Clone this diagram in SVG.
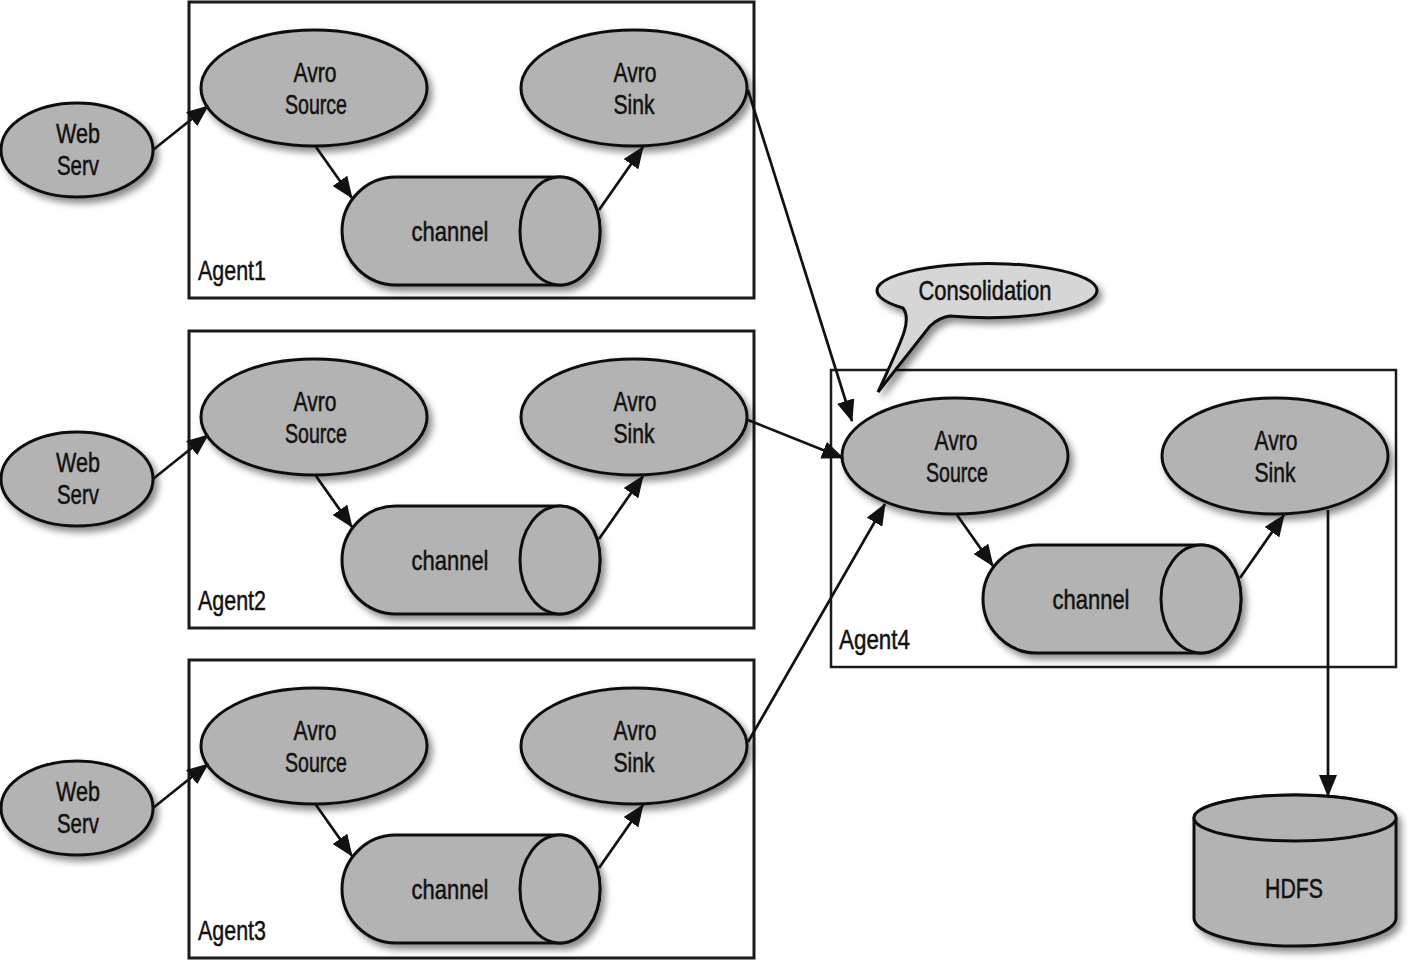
<svg xmlns="http://www.w3.org/2000/svg" width="1419" height="969" viewBox="0 0 1419 969">
<style>
  .box{fill:none;stroke:#1a1a1a;stroke-width:3}
  .box4{fill:none;stroke:#1a1a1a;stroke-width:2.5}
  .shape{fill:#b3b3b3;stroke:#111;stroke-width:3}
  .bubble{fill:#d6d6d6;stroke:#111;stroke-width:3}
  .conn{fill:none;stroke:#111;stroke-width:2.7}
  text{font-family:"Liberation Sans",Arial,sans-serif;font-size:28px;fill:#111;stroke:#111;stroke-width:0.5;text-anchor:middle}
  .lbl{text-anchor:start}
</style>
<defs>
  <filter id="sh" x="-20%" y="-20%" width="150%" height="150%">
    <feDropShadow dx="4" dy="5" stdDeviation="3.5" flood-color="#000" flood-opacity="0.45"/>
  </filter>
  <marker id="arr" markerUnits="userSpaceOnUse" markerWidth="22" markerHeight="18" viewBox="0 0 22 18" refX="21" refY="9" orient="auto">
    <path d="M0,0 L22,9 L0,18 Z" fill="#111"/>
  </marker>
</defs>
<rect width="1419" height="969" fill="#fff"/>

<!-- Agent 1 -->
<g id="agent1">
  <rect class="box" x="189" y="2" width="565" height="296"/>
  <text class="lbl" x="198" y="280" textLength="68" lengthAdjust="spacingAndGlyphs">Agent1</text>
</g>
<g id="web1"><ellipse class="shape" filter="url(#sh)" cx="77" cy="150" rx="76" ry="47"/><text x="78" y="143" textLength="44" lengthAdjust="spacingAndGlyphs">Web</text><text x="78" y="175" textLength="42" lengthAdjust="spacingAndGlyphs">Serv</text></g>
<g id="source1"><ellipse class="shape" filter="url(#sh)" cx="314" cy="88" rx="113" ry="58"/><text x="315" y="82" textLength="43" lengthAdjust="spacingAndGlyphs">Avro</text><text x="316" y="114" textLength="62" lengthAdjust="spacingAndGlyphs">Source</text></g>
<g id="sink1"><ellipse class="shape" filter="url(#sh)" cx="634" cy="88" rx="113" ry="58"/><text x="635" y="82" textLength="43" lengthAdjust="spacingAndGlyphs">Avro</text><text x="634" y="114" textLength="41" lengthAdjust="spacingAndGlyphs">Sink</text></g>
<g id="channel1"><g filter="url(#sh)"><path class="shape" d="M560,177 L396,177 A54,54 0 0 0 396,285 L560,285 A40,54 0 0 0 560,177 Z"/><ellipse class="shape" cx="560" cy="231" rx="40" ry="54"/></g><text x="450" y="241" textLength="77" lengthAdjust="spacingAndGlyphs">channel</text></g>

<!-- Agent 2 -->
<g id="agent2">
  <rect class="box" x="189" y="331" width="565" height="297"/>
  <text class="lbl" x="198" y="610" textLength="68" lengthAdjust="spacingAndGlyphs">Agent2</text>
</g>
<g id="web2"><ellipse class="shape" filter="url(#sh)" cx="77" cy="479" rx="76" ry="47"/><text x="78" y="472" textLength="44" lengthAdjust="spacingAndGlyphs">Web</text><text x="78" y="504" textLength="42" lengthAdjust="spacingAndGlyphs">Serv</text></g>
<g id="source2"><ellipse class="shape" filter="url(#sh)" cx="314" cy="417" rx="113" ry="58"/><text x="315" y="411" textLength="43" lengthAdjust="spacingAndGlyphs">Avro</text><text x="316" y="443" textLength="62" lengthAdjust="spacingAndGlyphs">Source</text></g>
<g id="sink2"><ellipse class="shape" filter="url(#sh)" cx="634" cy="417" rx="113" ry="58"/><text x="635" y="411" textLength="43" lengthAdjust="spacingAndGlyphs">Avro</text><text x="634" y="443" textLength="41" lengthAdjust="spacingAndGlyphs">Sink</text></g>
<g id="channel2"><g filter="url(#sh)"><path class="shape" d="M560,506 L396,506 A54,54 0 0 0 396,614 L560,614 A40,54 0 0 0 560,506 Z"/><ellipse class="shape" cx="560" cy="560" rx="40" ry="54"/></g><text x="450" y="570" textLength="77" lengthAdjust="spacingAndGlyphs">channel</text></g>

<!-- Agent 3 -->
<g id="agent3">
  <rect class="box" x="189" y="660" width="565" height="298"/>
  <text class="lbl" x="198" y="940" textLength="68" lengthAdjust="spacingAndGlyphs">Agent3</text>
</g>
<g id="web3"><ellipse class="shape" filter="url(#sh)" cx="77" cy="808" rx="76" ry="47"/><text x="78" y="801" textLength="44" lengthAdjust="spacingAndGlyphs">Web</text><text x="78" y="833" textLength="42" lengthAdjust="spacingAndGlyphs">Serv</text></g>
<g id="source3"><ellipse class="shape" filter="url(#sh)" cx="314" cy="746" rx="113" ry="58"/><text x="315" y="740" textLength="43" lengthAdjust="spacingAndGlyphs">Avro</text><text x="316" y="772" textLength="62" lengthAdjust="spacingAndGlyphs">Source</text></g>
<g id="sink3"><ellipse class="shape" filter="url(#sh)" cx="634" cy="746" rx="113" ry="58"/><text x="635" y="740" textLength="43" lengthAdjust="spacingAndGlyphs">Avro</text><text x="634" y="772" textLength="41" lengthAdjust="spacingAndGlyphs">Sink</text></g>
<g id="channel3"><g filter="url(#sh)"><path class="shape" d="M560,835 L396,835 A54,54 0 0 0 396,943 L560,943 A40,54 0 0 0 560,835 Z"/><ellipse class="shape" cx="560" cy="889" rx="40" ry="54"/></g><text x="450" y="899" textLength="77" lengthAdjust="spacingAndGlyphs">channel</text></g>

<!-- Agent 4 -->
<g id="agent4">
  <rect class="box4" x="831" y="370" width="565" height="297"/>
  <text class="lbl" x="839" y="649" textLength="71" lengthAdjust="spacingAndGlyphs">Agent4</text>
</g>
<g id="source4"><ellipse class="shape" filter="url(#sh)" cx="955" cy="456" rx="113" ry="58"/><text x="956" y="450" textLength="43" lengthAdjust="spacingAndGlyphs">Avro</text><text x="957" y="482" textLength="62" lengthAdjust="spacingAndGlyphs">Source</text></g>
<g id="sink4"><ellipse class="shape" filter="url(#sh)" cx="1275" cy="456" rx="113" ry="58"/><text x="1276" y="450" textLength="43" lengthAdjust="spacingAndGlyphs">Avro</text><text x="1275" y="482" textLength="41" lengthAdjust="spacingAndGlyphs">Sink</text></g>
<g id="channel4"><g filter="url(#sh)"><path class="shape" d="M1201,545 L1037,545 A54,54 0 0 0 1037,653 L1201,653 A40,54 0 0 0 1201,545 Z"/><ellipse class="shape" cx="1201" cy="599" rx="40" ry="54"/></g><text x="1091" y="609" textLength="77" lengthAdjust="spacingAndGlyphs">channel</text></g>

<!-- Consolidation bubble -->
<g id="consolidation">
  <path class="bubble" filter="url(#sh)" d="M950,316 A110,27 0 1 0 903,308 C912,320 904,336 878,392 L930,326 Q940,317 950,316 Z"/>
  <text x="985" y="300" textLength="133" lengthAdjust="spacingAndGlyphs">Consolidation</text>
</g>

<!-- HDFS -->
<g id="hdfs">
  <g filter="url(#sh)">
    <path class="shape" d="M1194,818 L1194,918 A101,28 0 0 0 1396,918 L1396,818 A101,23 0 0 0 1194,818 Z"/>
    <ellipse class="shape" cx="1295" cy="818" rx="101" ry="23"/>
  </g>
  <text x="1294" y="898" textLength="58" lengthAdjust="spacingAndGlyphs">HDFS</text>
</g>

<!-- Connectors -->
<g id="connectors" class="conn" marker-end="url(#arr)">
  <line x1="153" y1="150" x2="208" y2="106"/>
  <line x1="316" y1="147" x2="352" y2="198"/>
  <line x1="599" y1="210" x2="643" y2="147"/>
  <line x1="153" y1="479" x2="208" y2="435"/>
  <line x1="316" y1="476" x2="352" y2="527"/>
  <line x1="599" y1="539" x2="643" y2="476"/>
  <line x1="153" y1="808" x2="208" y2="764"/>
  <line x1="316" y1="805" x2="352" y2="856"/>
  <line x1="599" y1="868" x2="643" y2="805"/>
  <line x1="957" y1="515" x2="993" y2="566"/>
  <line x1="1240" y1="578" x2="1284" y2="515"/>
  <line x1="748" y1="90" x2="852" y2="421"/>
  <line x1="748" y1="420" x2="843" y2="458"/>
  <line x1="748" y1="742" x2="885" y2="504"/>
  <line x1="1328" y1="510" x2="1328" y2="796"/>
</g>
</svg>
